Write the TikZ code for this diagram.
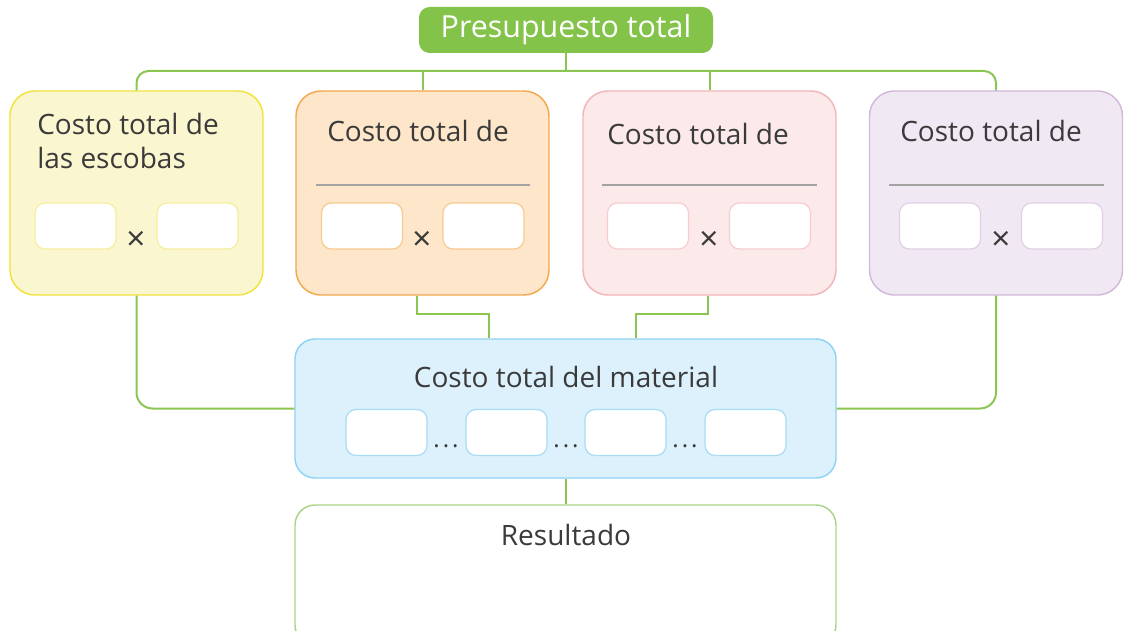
\documentclass[tikz,border=0pt]{standalone}
\usepackage{fontspec}
\setmainfont{Open Sans}
\usetikzlibrary{calc}
\definecolor{conn}{HTML}{8BC653}
\definecolor{topg}{HTML}{84C34A}
\definecolor{resg}{HTML}{A9D488}
\definecolor{txt}{HTML}{3A3A3A}
\definecolor{yfill}{HTML}{FAF6CF}\definecolor{ydraw}{HTML}{EFE33C}\definecolor{ysmall}{HTML}{F6EE9E}
\definecolor{ofill}{HTML}{FDE6C9}\definecolor{odraw}{HTML}{F4A84E}\definecolor{osmall}{HTML}{F8C990}
\definecolor{pfill}{HTML}{FCE9EA}\definecolor{pdraw}{HTML}{F2B5B9}\definecolor{psmall}{HTML}{F6CDD0}
\definecolor{vfill}{HTML}{F0E8F2}\definecolor{vdraw}{HTML}{D2B8D9}\definecolor{vsmall}{HTML}{E1D0E6}
\definecolor{bfill}{HTML}{DDF1FC}\definecolor{bdraw}{HTML}{8FD3F3}\definecolor{bsmall}{HTML}{A7DCF5}
\definecolor{rule}{HTML}{A3A3A3}
\tikzset{
  bigbox/.style={draw=#1draw, fill=#1fill, line width=1.1pt, rounded corners=18.75pt,
     minimum width=189.75pt, minimum height=153pt, inner sep=0pt},
  slot/.style={draw=#1, fill=white, line width=0.9pt, rounded corners=7.5pt,
     minimum width=60.75pt, minimum height=34.5pt, inner sep=0pt},
  lbl/.style={text=txt, inner sep=0pt, font=\fontsize{21}{25}\selectfont},
  times/.style={text=txt, inner sep=0pt, font=\fontsize{25}{28}\selectfont},
  dots/.style={text=txt, inner sep=0pt, font=\fontsize{18}{20}\selectfont},
  conline/.style={draw=conn, line width=1.5pt},
  ruleline/.style={draw=rule, line width=1.1pt}
}
\newcommand{\mydots}{.\kern2.2pt.\kern2.2pt.}
\begin{document}
\begin{tikzpicture}[x=0.75pt,y=-0.75pt]
\useasboundingbox (0,0) rectangle (1124,631);
% top
\node[fill=topg, rounded corners=8pt, minimum width=220.5pt, minimum height=34.5pt, inner sep=0pt,
      text=white, font=\fontsize{22.8}{25}\selectfont] (top) at (566,30) {\raisebox{-1pt}{Presupuesto total}};
% four boxes
\node[bigbox=y] (yel) at (136.5,193) {};
\node[bigbox=o] (ora) at (422.5,193) {};
\node[bigbox=p] (pin) at (709.5,193) {};
\node[bigbox=v] (pur) at (996,193) {};
% texts
\node[lbl, anchor=base west] (ytxt1) at (37,135) {Costo total de};
\node[lbl, anchor=base west] (ytxt2) at (37,169) {las escobas};
\node[lbl, anchor=base west] (otxt) at (327,142) {Costo total de};
\node[lbl, anchor=base west] (ptxt) at (607,145) {Costo total de};
\node[lbl, anchor=base west] (vtxt) at (900,142) {Costo total de};
% rules
\coordinate (or1) at (316,185); \coordinate (or2) at (530,185);
\coordinate (pr1) at (602,185); \coordinate (pr2) at (817,185);
\coordinate (vr1) at (889,185); \coordinate (vr2) at (1104,185);
\draw[ruleline] (or1) -- (or2);
\draw[ruleline] (pr1) -- (pr2);
\draw[ruleline] (vr1) -- (vr2);
% slots
\node[slot=ysmall] (ys1) at (75.5,226) {};
\node[slot=ysmall] (ys2) at (197.5,226) {};
\node[slot=osmall] (os1) at (362,226) {};
\node[slot=osmall] (os2) at (483.5,226) {};
\node[slot=psmall] (ps1) at (648,226) {};
\node[slot=psmall] (ps2) at (770,226) {};
\node[slot=vsmall] (vs1) at (940,226) {};
\node[slot=vsmall] (vs2) at (1062,226) {};
\node[times] (yx) at (136,241) {×};
\node[times] (ox) at (422,241) {×};
\node[times] (px) at (709,241) {×};
\node[times] (vx) at (1001,241) {×};
% blue box
\node[draw=bdraw, fill=bfill, line width=1.1pt, rounded corners=15pt, minimum width=405.75pt,
      minimum height=104.25pt, inner sep=0pt] (blue) at (565.5,408.5) {};
\node[lbl] (btxt) at (566,377) {Costo total del material};
\node[slot=bsmall] (bs1) at (386.5,432.5) {};
\node[slot=bsmall] (bs2) at (506.5,432.5) {};
\node[slot=bsmall] (bs3) at (625.5,432.5) {};
\node[slot=bsmall] (bs4) at (745.5,432.5) {};
\node[dots, anchor=base] (d1) at (446,447) {\mydots};
\node[dots, anchor=base] (d2) at (566,447) {\mydots};
\node[dots, anchor=base] (d3) at (685,447) {\mydots};
% result
\node[draw=resg, fill=white, line width=1.1pt, rounded corners=15pt, minimum width=405.75pt,
      minimum height=105pt, inner sep=0pt] (res) at (565.5,575) {};
\node[lbl] (rtxt) at (566,535) {Resultado};
% connectors
\coordinate (bus) at (566,71);
\draw[conline] (top.south) -- (bus);
\draw[conline, rounded corners=9pt] (yel.north) |- (bus) -| (pur.north);
\draw[conline] (ora.north) -- (ora.north |- bus);
\draw[conline] (pin.north) -- (pin.north |- bus);
\draw[conline, rounded corners=12pt] (yel.south) |- (blue.west);
\draw[conline, rounded corners=12pt] (pur.south) |- (blue.east);
\coordinate (ob) at ($(ora.south)+(-5.5,0)$);
\coordinate (pb) at ($(pin.south)+(-1.5,0)$);
\coordinate (bo) at ($(blue.north)+(-76.5,0)$);
\coordinate (bp) at ($(blue.north)+(70.5,0)$);
\draw[conline] (ob) -- ++(0,18) -| (bo);
\draw[conline] (pb) -- ++(0,18) -| (bp);
\draw[conline] (blue.south) -- (res.north);
\end{tikzpicture}
\end{document}
